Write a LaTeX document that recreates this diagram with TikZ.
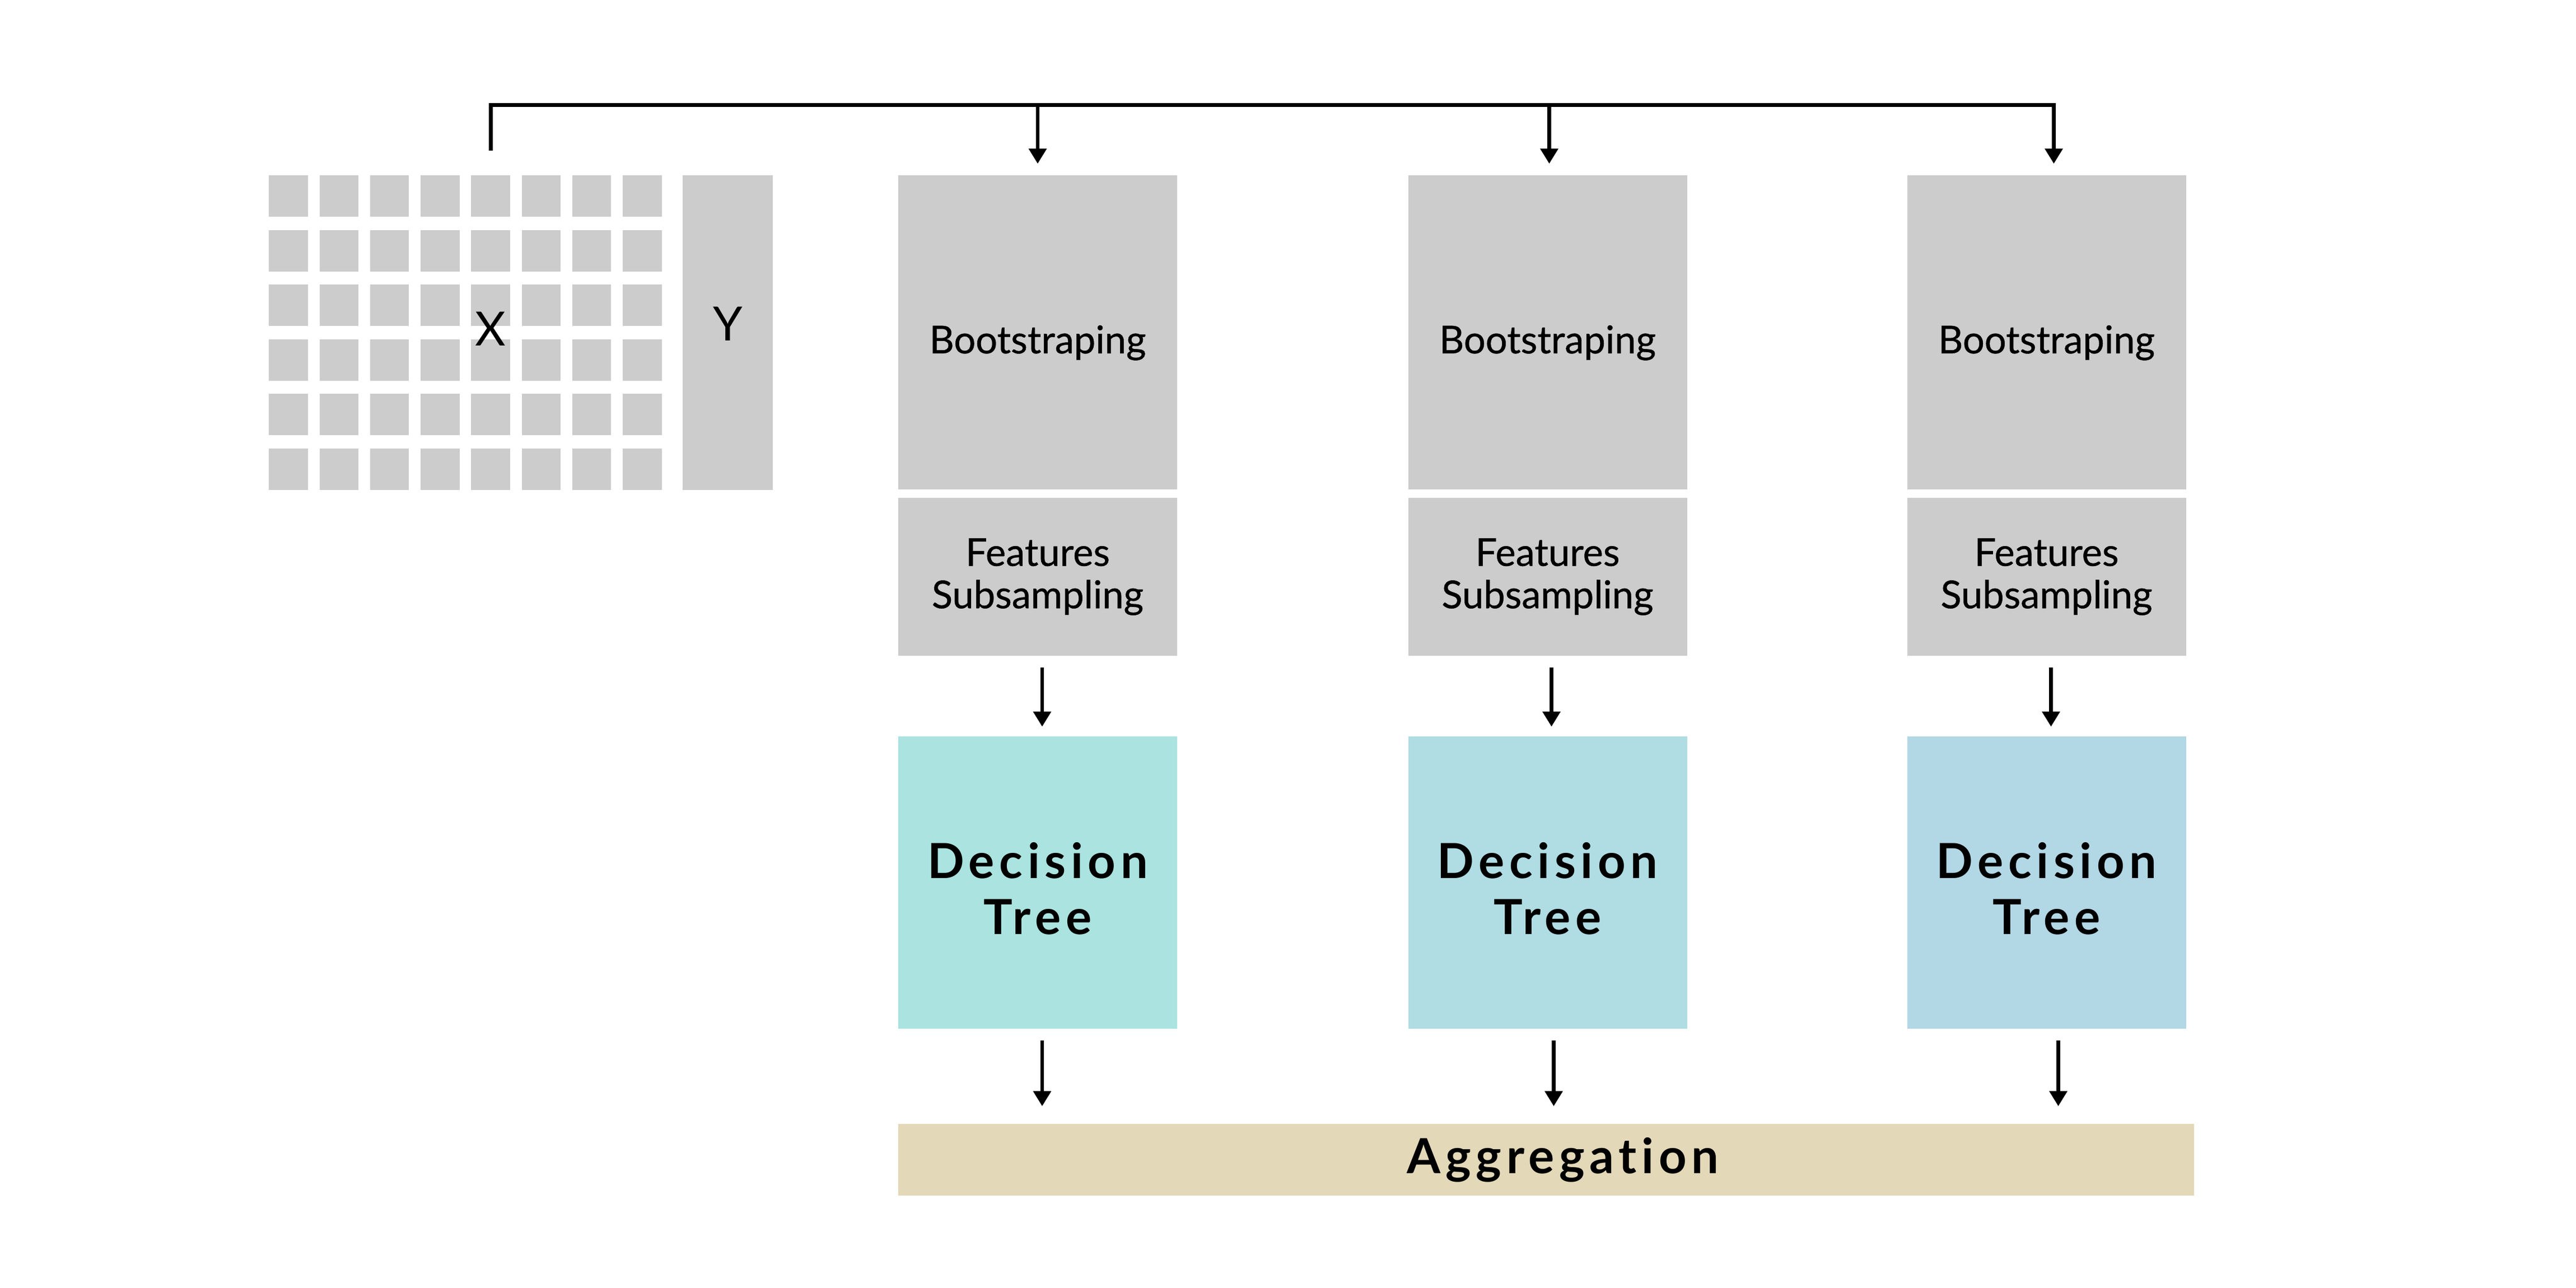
\documentclass[tikz,border=0pt]{standalone}
\usepackage{fontspec}
\setmainfont{Lato}
\newfontfamily\medium[FakeBold=0.6]{Lato}
\newfontfamily\spaced[LetterSpace=10,Ligatures=NoCommon]{Lato}
\usetikzlibrary{arrows.meta,positioning}
\definecolor{boxgray}{HTML}{CCCCCC}
\definecolor{treeA}{HTML}{AAE3DF}
\definecolor{treeB}{HTML}{AFDDE3}
\definecolor{treeC}{HTML}{B2D7E5}
\definecolor{aggcol}{HTML}{E3D8B8}
\tikzset{
    stage/.style={fill=boxgray,minimum width=4.98cm,inner sep=0pt,align=center,font=\medium\fontsize{19.5}{21.5}\selectfont},
    tree/.style={minimum width=4.98cm,minimum height=5.215cm,inner sep=0pt,align=center,font=\spaced\bfseries\fontsize{24.6}{28.3}\selectfont},
    wire/.style={line width=1.85pt}
}
\begin{document}
\begin{tikzpicture}[>={Triangle[width=3.1mm,length=2.7mm]}]
\fill[white](0,0) rectangle (46,-23);
% data matrix
\foreach \i in {0,...,7}
\foreach \j in {0,...,5}
{
    \fill[boxgray](4.802+0.903*\i,-3.133-0.975*\j) rectangle ++(0.694,-0.74);
}
\node[fill=boxgray,minimum width=1.61cm,minimum height=5.615cm,inner sep=0pt,text depth=0.32cm,font=\fontsize{24}{28}\selectfont](Y) at (12.995,-5.94){Y};
\node[inner sep=0pt,font=\fontsize{24}{28}\selectfont](X) at (8.76,-5.87){X};
\coordinate (Xtop) at (8.765,-2.69);
% three trees
\foreach \k/\x/\c in {1/18.53/treeA,2/27.635/treeB,3/36.545/treeC}
{
    \node[stage,minimum height=5.61cm,text height=25pt,text depth=3.7pt](boot\k) at (\x,-5.935){Bootstraping};
    \node[stage,minimum height=2.825cm](feat\k) at (\x,-10.30){Features\\Subsampling};
    \node[tree,fill=\c,text height=1.84cm,text depth=0pt](dt\k) at (\x,-15.76){Decision\\Tree};
}
\node[tree,fill=aggcol,minimum width=23.14cm,minimum height=1.28cm](agg) at (27.61,-20.71){\hspace*{0.6cm}Aggregation};
\draw[wire,->](Xtop) |- ([xshift=.13cm,yshift=1.25cm]boot3.north) -- ([xshift=.13cm,yshift=.2cm]boot3.north);
\foreach \k/\a in {1/0,2/.03}
{
    \draw[wire,->]([xshift=\a cm,yshift=1.25cm]boot\k.north) -- ([xshift=\a cm,yshift=.2cm]boot\k.north);
}
\foreach \k/\a/\b in {1/.08/.08,2/.07/.11,3/.08/.21}
{
    \draw[wire,->]([xshift=\a cm,yshift=-.2cm]feat\k.south) -- ([xshift=\a cm,yshift=.17cm]dt\k.north);
    \draw[wire,->]([xshift=\b cm,yshift=-.21cm]dt\k.south) -- ([xshift=\b cm,yshift=.31cm]dt\k.south |- agg.north);
}
\end{tikzpicture}
\end{document}
